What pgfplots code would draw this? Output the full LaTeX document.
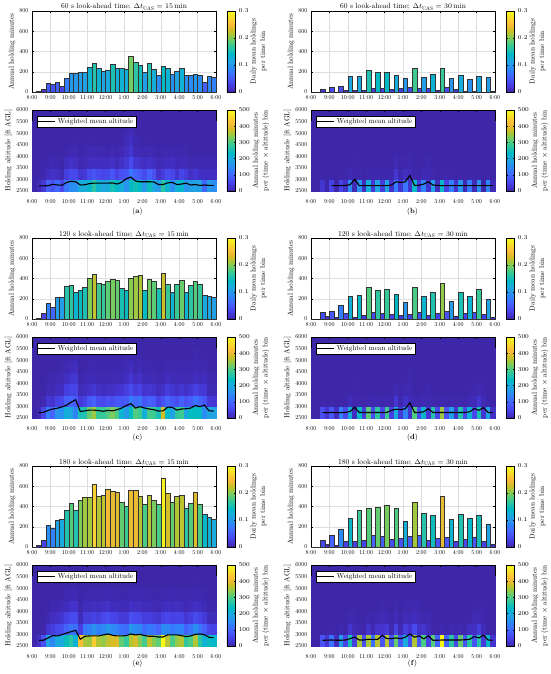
\documentclass[border=0pt]{standalone}
\usepackage{fontspec}
\setmainfont{lmroman10-regular.otf}[BoldFont=lmroman10-bold.otf, ItalicFont=lmroman10-italic.otf]
\usepackage{pgfplots}
\usepackage{pgfplotstable}
\pgfplotsset{compat=1.18}
\definecolor{pz}{rgb}{0.2422,0.1504,0.6603}
\newcommand\tf{\fontsize{6}{7}\selectfont}
\newcommand\lf{\fontsize{7.3}{9}\selectfont}
\newcommand\cf{\fontsize{7.3}{9.6}\selectfont}
\newcommand\capf{\fontsize{7.5}{9}\selectfont}
\pgfdeclareplotmark{hbar}{%
 \pgfpathrectangle{\pgfpoint{-2.3pt}{0pt}}{\pgfpoint{4.6pt}{-\barh pt}}%
 \pgfusepathqfillstroke}
\pgfdeclareplotmark{cell}{%
 \pgfpathrectangle{\pgfpoint{-2.33pt}{-5.83pt}}{\pgfpoint{4.66pt}{11.66pt}}%
 \pgfusepathqfillstroke}
\pgfplotsset{
 colormap={parula}{
  rgb=(0.2422,0.1504,0.6603) rgb=(0.2647,0.1978,0.7952) rgb=(0.2783,0.2559,0.8991)
  rgb=(0.2810,0.3228,0.9579) rgb=(0.2699,0.3892,0.9906) rgb=(0.2206,0.4603,0.9973)
  rgb=(0.1786,0.5289,0.9682) rgb=(0.1540,0.5902,0.9218) rgb=(0.1248,0.6459,0.8883)
  rgb=(0.0689,0.6948,0.8394) rgb=(0.0067,0.7312,0.7660) rgb=(0.1408,0.7584,0.6842)
  rgb=(0.2161,0.7843,0.5923) rgb=(0.3406,0.8008,0.4789) rgb=(0.5044,0.7993,0.3480)
  rgb=(0.6720,0.7793,0.2227) rgb=(0.8203,0.7498,0.1535) rgb=(0.9393,0.7288,0.2100)
  rgb=(0.9970,0.7659,0.2199) rgb=(0.9786,0.8386,0.1766) rgb=(0.9597,0.9135,0.1423)
  rgb=(0.9769,0.9839,0.0805)},
 every axis title/.style={at={(0.5,1)}, anchor=base, yshift=2pt, font=\fontsize{7.5}{9}\selectfont},
 base/.style={scale only axis, width=184pt, height=81pt, anchor=north west,
  xmin=0, xmax=40, xtick={0,4,...,40},
  xticklabels={8:00,9:00,10:00,11:00,12:00,1:00,2:00,3:00,4:00,5:00,6:00},
  tick align=inside, major tick length=2pt,
  every tick/.style={black, line width=0.3pt},
  axis line style={line width=0.4pt},
  ticklabel style={font=\tf},
  /pgf/number format/assume math mode=true,
  scaled y ticks=false,
  yticklabel style={/pgf/number format/1000 sep={}},
  colormap name=parula, colorbar shift/.style={xshift=11pt}},
 cbcommon/.style={at={(parent axis.north east)}, anchor=north west,
  width=8.3pt, height=81pt, scale only axis, grid=none,
  tick align=inside, major tick length=1.5pt,
  every tick/.style={black, line width=0.3pt},
  yticklabel style={font=\tf}},
 barax/.style={base, ymin=0, ymax=800, ytick={0,200,...,800},
  grid=major, grid style={black!13, line width=0.25pt},
  every axis y label/.style={at={(axis description cs:-0.108,0.5)}, rotate=90, anchor=center, font=\lf},
  colorbar, point meta min=0, point meta max=0.3,
  colorbar style={cbcommon, ytick={0,0.1,0.2,0.3},
   ylabel={Daily mean holdings\\per time bin},
   every axis y label/.style={at={(axis description cs:#1,0.5)}, rotate=90, anchor=center, align=center, font=\cf}},
  ylabel={Annual holding minutes}},
 heatax/.style={base, ymin=2500, ymax=6000, ytick={2500,3000,...,6000},
  axis on top, axis background/.style={fill=pz},
  xticklabel style={yshift=-5pt},
  every axis y label/.style={at={(axis description cs:-0.128,0.5)}, rotate=90, anchor=center, font=\lf},
  colorbar, point meta min=0, point meta max=500,
  colorbar style={cbcommon, ytick={0,100,...,500},
   ylabel={Annual holding minutes\\per (time $\times$ altitude) bin},
   every axis y label/.style={at={(axis description cs:#1,0.5)}, rotate=90, anchor=center, align=center, font=\cf}},
  ylabel={Holding altitude [ft AGL]}},
 lineax/.style={scale only axis, width=184pt, height=81pt, anchor=north west,
  xmin=0, xmax=40, ymin=2500, ymax=6000, hide axis,
  legend style={at={(axis description cs:0.028,0.93)}, anchor=north west, font=\fontsize{7.2}{8}\selectfont,
   draw=black, line width=0.3pt, fill=white, inner sep=0.5pt}},
 hc/.style={scatter, only marks, mark=cell, line width=0.1pt,
   scatter/use mapped color={draw=mapped color, fill=mapped color}, forget plot},
}
\newcommand\bars[2]{%
 \addplot[scatter, only marks, mark=hbar, line width=0.25pt,
   scatter/use mapped color={draw=black!80, fill=mapped color},
   visualization depends on={\thisrow{b}*0.10125 \as \barh},
   point meta={\thisrow{b}*#2}] table[x=x, y=b] {#1};}
\newcommand\heat[1]{%
 \addplot[hc, point meta=\thisrow{r1}] table[x=x, y expr=2750] {#1};
 \addplot[hc, point meta=\thisrow{r2}] table[x=x, y expr=3250] {#1};
 \addplot[hc, point meta=\thisrow{r3}] table[x=x, y expr=3750] {#1};
 \addplot[hc, point meta=\thisrow{r4}] table[x=x, y expr=4250] {#1};
 \addplot[hc, point meta=\thisrow{r5}] table[x=x, y expr=4750] {#1};
 \addplot[hc, point meta=\thisrow{r6}] table[x=x, y expr=5250] {#1};}
\newcommand\altline[2]{%
 \begin{axis}[lineax, at={#2}]
 \addplot[black, line width=1.1pt] table[x=x, y=alt] {#1};
 \addlegendentry{Weighted mean altitude}
 \end{axis}}

\pgfplotstableread{
x b r1 r2 r3 r4 r5 r6 alt
0.5 0 0 0 0 0 0 0 nan
1.5 10 11 2 0 0 0 0 2720
2.5 30 32 5 1 0 0 0 2720
3.5 90 94 15 3 0 0 0 2730
4.5 80 72 22 8 2 0 0 2790
5.5 100 102 18 5 0 0 0 2760
6.5 55 58 9 2 0 0 0 2750
7.5 140 120 42 15 4 0 0 2870
8.5 185 150 60 22 8 2 0 2920
9.5 185 156 57 18 8 2 0 2900
10.5 195 204 30 8 2 0 0 2760
11.5 200 204 33 9 3 0 0 2770
12.5 245 228 60 15 8 2 0 2820
13.5 290 270 72 18 8 2 0 2840
14.5 240 222 60 18 5 0 0 2840
15.5 210 194 52 15 5 0 0 2840
16.5 220 204 57 15 4 0 0 2840
17.5 280 254 75 20 8 2 0 2850
18.5 235 234 45 12 4 0 0 2800
19.5 235 206 68 20 8 2 0 2880
20.5 230 162 75 33 18 12 5 3030
21.5 355 234 120 60 30 18 12 3100
22.5 300 250 93 30 10 5 2 2930
23.5 270 234 82 22 8 2 0 2900
24.5 200 174 60 18 5 0 0 2900
25.5 285 246 90 22 8 2 0 2900
26.5 225 198 68 18 5 0 0 2890
27.5 165 174 22 8 2 0 0 2780
28.5 260 270 38 12 3 0 0 2780
29.5 240 222 63 15 5 0 0 2850
30.5 175 150 52 18 5 0 0 2870
31.5 205 216 27 8 3 0 0 2780
32.5 235 228 52 12 3 0 0 2800
33.5 170 162 38 12 3 0 0 2840
34.5 165 180 18 5 0 0 0 2760
35.5 180 186 30 8 0 0 0 2780
36.5 170 186 18 5 0 0 0 2740
37.5 100 102 18 5 0 0 0 2760
38.5 160 174 18 5 0 0 0 2740
39.5 145 156 18 5 0 0 0 2740
}\tA

\pgfplotstableread{
x b r1 r2 r3 r4 r5 r6 alt
0.5 0 0 0 0 0 0 0 nan
1.5 0 0 0 0 0 0 0 nan
2.5 30 28 2 0 0 0 0 nan
3.5 0 0 0 0 0 0 0 nan
4.5 50 48 2 0 0 0 0 2730
5.5 0 0 0 0 0 0 0 2730
6.5 55 53 2 0 0 0 0 2730
7.5 20 19 1 0 0 0 0 2740
8.5 160 148 10 2 0 0 0 2770
9.5 15 9 4 1 1 0 0 3010
10.5 160 158 2 0 0 0 0 2730
11.5 15 15 0 0 0 0 0 2730
12.5 215 212 3 0 0 0 0 2730
13.5 35 34 1 0 0 0 0 2730
14.5 195 192 3 0 0 0 0 2730
15.5 40 39 1 0 0 0 0 2730
16.5 195 192 3 0 0 0 0 2730
17.5 25 22 3 0 0 0 0 2760
18.5 170 130 30 8 2 0 0 2900
19.5 35 29 5 1 0 0 0 2870
20.5 140 118 18 4 0 0 0 2900
21.5 45 24 12 6 2 1 0 3170
22.5 240 236 4 0 0 0 0 2740
23.5 40 39 1 0 0 0 0 2750
24.5 145 135 8 2 0 0 0 2800
25.5 35 24 8 3 0 0 0 2900
26.5 180 176 4 0 0 0 0 2760
27.5 15 15 0 0 0 0 0 2740
28.5 235 233 2 0 0 0 0 2730
29.5 50 49 1 0 0 0 0 2730
30.5 135 133 2 0 0 0 0 2730
31.5 25 25 0 0 0 0 0 2730
32.5 170 168 2 0 0 0 0 2730
33.5 5 5 0 0 0 0 0 2730
34.5 130 128 2 0 0 0 0 2730
35.5 10 10 0 0 0 0 0 2730
36.5 160 158 2 0 0 0 0 2730
37.5 0 0 0 0 0 0 0 2730
38.5 145 143 2 0 0 0 0 2730
39.5 10 10 0 0 0 0 0 2730
}\tB

\pgfplotstableread{
x b r1 r2 r3 r4 r5 r6 alt
0.5 0 0 0 0 0 0 0 nan
1.5 10 9 1 0 0 0 0 2730
2.5 60 55 7 0 0 0 0 2745
3.5 160 130 31 9 3 0 0 2830
4.5 120 95 25 8 3 0 0 2890
5.5 215 165 49 15 8 0 0 2920
6.5 215 155 56 18 9 3 0 2980
7.5 320 210 91 42 18 8 0 3050
8.5 330 195 98 52 27 12 4 3180
9.5 270 140 84 52 30 15 5 3290
10.5 290 255 35 12 3 0 0 2780
11.5 310 260 49 15 8 0 0 2810
12.5 400 320 77 22 10 5 0 2840
13.5 445 350 91 30 10 5 0 2840
14.5 350 285 63 20 8 3 0 2820
15.5 340 285 56 15 6 2 0 2790
16.5 375 305 70 20 8 3 0 2830
17.5 395 330 63 20 8 3 0 2810
18.5 380 300 77 25 9 3 0 2860
19.5 305 220 77 30 10 5 0 2930
20.5 290 180 84 42 18 9 4 3040
21.5 405 240 126 60 30 15 5 3120
22.5 420 305 105 38 15 6 1 2930
23.5 430 290 119 48 21 9 3 2990
24.5 290 210 77 25 9 3 0 2930
25.5 390 295 91 30 10 5 0 2890
26.5 375 290 84 25 9 3 0 2860
27.5 305 255 49 15 6 2 0 2800
28.5 450 380 70 20 8 3 0 2810
29.5 345 235 98 38 15 6 1 2970
30.5 270 185 77 30 10 5 0 2960
31.5 345 280 63 20 8 3 0 2840
32.5 385 290 91 30 10 5 0 2890
33.5 265 195 70 20 8 3 0 2900
34.5 330 240 84 30 10 5 0 2930
35.5 370 240 112 45 18 8 3 3040
36.5 340 235 98 35 12 5 1 2990
37.5 240 150 77 33 14 5 1 3060
38.5 230 195 35 10 5 0 0 2810
39.5 220 190 31 9 3 0 0 2800
}\tC

\pgfplotstableread{
x b r1 r2 r3 r4 r5 r6 alt
0.5 0 0 0 0 0 0 0 nan
1.5 0 0 0 0 0 0 0 nan
2.5 65 64 1 0 0 0 0 2730
3.5 25 25 0 0 0 0 0 2730
4.5 80 78 2 0 0 0 0 2740
5.5 15 15 0 0 0 0 0 2730
6.5 135 133 2 0 0 0 0 2735
7.5 60 59 1 0 0 0 0 2740
8.5 225 210 13 2 0 0 0 2780
9.5 20 14 4 1 1 0 0 2960
10.5 240 236 4 0 0 0 0 2740
11.5 40 39 1 0 0 0 0 2740
12.5 315 310 5 0 0 0 0 2740
13.5 65 62 3 0 0 0 0 2740
14.5 285 280 5 0 0 0 0 2740
15.5 55 54 1 0 0 0 0 2740
16.5 295 290 5 0 0 0 0 2740
17.5 50 44 4 2 0 0 0 2830
18.5 245 205 30 8 2 0 0 2880
19.5 40 35 4 1 0 0 0 2860
20.5 170 140 22 6 2 0 0 2900
21.5 50 25 12 8 3 2 0 3160
22.5 310 305 5 0 0 0 0 2740
23.5 65 63 2 0 0 0 0 2740
24.5 230 220 8 2 0 0 0 2770
25.5 40 30 7 3 0 0 0 2900
26.5 270 265 5 0 0 0 0 2740
27.5 55 54 1 0 0 0 0 2740
28.5 355 350 5 0 0 0 0 2740
29.5 75 73 2 0 0 0 0 2740
30.5 180 177 3 0 0 0 0 2740
31.5 30 29 1 0 0 0 0 2740
32.5 265 262 3 0 0 0 0 2740
33.5 55 54 1 0 0 0 0 2740
34.5 230 218 10 2 0 0 0 2770
35.5 70 55 10 4 1 0 0 2910
36.5 295 255 30 8 2 0 0 2830
37.5 45 30 9 4 2 0 0 2950
38.5 195 192 3 0 0 0 0 2740
39.5 20 20 0 0 0 0 0 2730
}\tD

\pgfplotstableread{
x b r1 r2 r3 r4 r5 r6 alt
0.5 0 0 0 0 0 0 0 nan
1.5 20 20 0 0 0 0 0 2745
2.5 70 68 2 0 0 0 0 2750
3.5 215 185 30 8 0 0 0 2850
4.5 190 145 38 16 5 0 0 2950
5.5 265 200 58 21 6 0 0 2935
6.5 280 200 66 29 10 2 0 2990
7.5 365 245 96 45 14 5 0 3060
8.5 430 270 120 61 24 8 2 3120
9.5 365 215 108 61 24 8 2 3180
10.5 465 420 42 13 3 0 0 2790
11.5 490 355 120 40 13 3 0 2920
12.5 495 350 132 40 13 3 0 2935
13.5 620 440 162 51 16 5 0 2935
14.5 505 360 132 40 13 3 0 2935
15.5 515 345 144 56 18 6 0 2980
16.5 570 370 168 67 22 6 0 3020
17.5 555 385 150 53 14 5 0 2965
18.5 545 390 138 48 13 3 0 2935
19.5 440 315 114 35 10 3 0 2935
20.5 405 285 108 35 10 3 0 2950
21.5 560 360 168 67 21 6 1 3020
22.5 560 385 150 59 16 5 0 2980
23.5 505 335 144 56 18 6 0 3005
24.5 420 295 108 40 11 5 0 2950
25.5 510 370 126 40 13 3 0 2920
26.5 460 335 114 35 10 3 0 2920
27.5 420 315 96 29 8 3 0 2890
28.5 680 515 150 48 13 3 0 2890
29.5 535 365 144 56 18 6 0 2980
30.5 445 300 126 45 14 5 0 2980
31.5 505 345 138 51 16 5 0 2980
32.5 515 360 138 48 13 3 0 2950
33.5 380 280 90 29 8 3 0 2905
34.5 430 300 114 40 11 5 0 2935
35.5 545 360 156 61 19 6 1 3005
36.5 420 275 120 51 16 5 0 3020
37.5 320 215 90 35 10 3 0 2990
38.5 300 245 54 13 3 0 0 2875
39.5 280 230 48 13 3 0 0 2860
}\tE

\pgfplotstableread{
x b r1 r2 r3 r4 r5 r6 alt
0.5 0 0 0 0 0 0 0 nan
1.5 0 0 0 0 0 0 0 nan
2.5 70 70 0 0 0 0 0 2745
3.5 25 25 0 0 0 0 0 2755
4.5 115 113 2 0 0 0 0 2760
5.5 15 15 0 0 0 0 0 2750
6.5 180 177 3 0 0 0 0 2750
7.5 55 54 1 0 0 0 0 2760
8.5 290 255 30 5 0 0 0 2820
9.5 55 42 9 3 1 0 0 2880
10.5 360 355 5 0 0 0 0 2760
11.5 65 64 1 0 0 0 0 2760
12.5 385 355 25 5 0 0 0 2790
13.5 120 113 6 1 0 0 0 2780
14.5 395 365 25 5 0 0 0 2790
15.5 110 72 25 9 3 1 0 2960
16.5 410 365 35 8 2 0 0 2820
17.5 80 72 6 2 0 0 0 2820
18.5 380 320 45 12 3 0 0 2850
19.5 85 76 7 2 0 0 0 2820
20.5 260 205 40 12 3 0 0 2880
21.5 105 65 25 10 4 1 0 3020
22.5 440 360 60 15 5 0 0 2880
23.5 120 85 22 9 3 1 0 2940
24.5 330 300 25 5 0 0 0 2810
25.5 70 50 13 5 2 0 0 2940
26.5 310 308 2 0 0 0 0 2750
27.5 90 89 1 0 0 0 0 2750
28.5 500 495 5 0 0 0 0 2760
29.5 100 98 2 0 0 0 0 2760
30.5 280 275 5 0 0 0 0 2760
31.5 55 54 1 0 0 0 0 2760
32.5 325 320 5 0 0 0 0 2760
33.5 75 73 2 0 0 0 0 2770
34.5 290 270 18 2 0 0 0 2790
35.5 100 73 18 7 2 0 0 2910
36.5 315 265 40 8 2 0 0 2850
37.5 55 38 11 4 2 0 0 2970
38.5 230 228 2 0 0 0 0 2760
39.5 25 25 0 0 0 0 0 2745
}\tF

\begin{document}
\begin{tikzpicture}
\path[use as bounding box, fill=white] (0,0) rectangle (550pt,-674pt);
% ---- (a)
\begin{axis}[barax=3.8, at={(32pt,-11pt)}, title={60 s look-ahead time; $\Delta t_{\mathrm{UAS}} = 15\,\mathrm{min}$}]
\bars{\tA}{0.00055}
\end{axis}
\begin{axis}[heatax=4.1, at={(32pt,-110pt)}]
\heat{\tA}
\end{axis}
\altline{\tA}{(32pt,-110pt)}
\node[font=\capf] at (137.5pt,-212pt) {(\textbf{a})};
% ---- (b)
\begin{axis}[barax=3.8, at={(311pt,-11pt)}, title={60 s look-ahead time; $\Delta t_{\mathrm{UAS}} = 30\,\mathrm{min}$}]
\bars{\tB}{0.00073}
\end{axis}
\begin{axis}[heatax=4.1, at={(311pt,-110pt)}]
\heat{\tB}
\end{axis}
\altline{\tB}{(311pt,-110pt)}
\node[font=\capf] at (412.5pt,-212pt) {(\textbf{b})};
% ---- (c)
\begin{axis}[barax=3.8, at={(32pt,-238pt)}, title={120 s look-ahead time; $\Delta t_{\mathrm{UAS}} = 15\,\mathrm{min}$}]
\bars{\tC}{0.0005}
\end{axis}
\begin{axis}[heatax=4.1, at={(32pt,-337pt)}]
\heat{\tC}
\end{axis}
\altline{\tC}{(32pt,-337pt)}
\node[font=\capf] at (137.5pt,-438pt) {(\textbf{c})};
% ---- (d)
\begin{axis}[barax=3.8, at={(311pt,-238pt)}, title={120 s look-ahead time; $\Delta t_{\mathrm{UAS}} = 30\,\mathrm{min}$}]
\bars{\tD}{0.00058}
\end{axis}
\begin{axis}[heatax=4.1, at={(311pt,-337pt)}]
\heat{\tD}
\end{axis}
\altline{\tD}{(311pt,-337pt)}
\node[font=\capf] at (412.5pt,-438pt) {(\textbf{d})};
% ---- (e)
\begin{axis}[barax=3.8, at={(32pt,-466pt)}, title={180 s look-ahead time; $\Delta t_{\mathrm{UAS}} = 15\,\mathrm{min}$}]
\bars{\tE}{0.00043}
\end{axis}
\begin{axis}[heatax=4.1, at={(32pt,-565pt)}]
\heat{\tE}
\end{axis}
\altline{\tE}{(32pt,-565pt)}
\node[font=\capf] at (137.5pt,-664pt) {(\textbf{e})};
% ---- (f)
\begin{axis}[barax=3.8, at={(311pt,-466pt)}, title={180 s look-ahead time; $\Delta t_{\mathrm{UAS}} = 30\,\mathrm{min}$}]
\bars{\tF}{0.00048}
\end{axis}
\begin{axis}[heatax=4.1, at={(311pt,-565pt)}]
\heat{\tF}
\end{axis}
\altline{\tF}{(311pt,-565pt)}
\node[font=\capf] at (412.5pt,-664pt) {(\textbf{f})};
\end{tikzpicture}
\end{document}
